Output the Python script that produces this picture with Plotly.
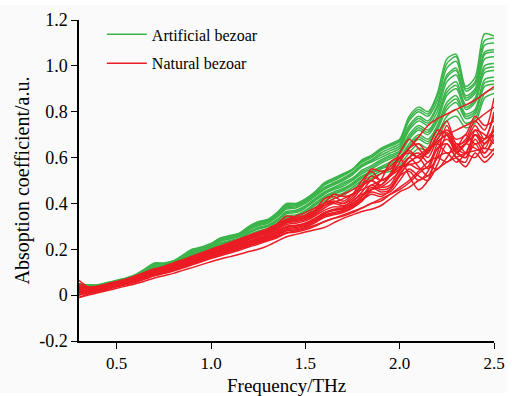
import plotly.graph_objects as go

# Frequency grid (THz)
freq = [0.30, 0.35, 0.40, 0.45, 0.50, 0.55, 0.60, 0.65, 0.70, 0.75,
        0.80, 0.85, 0.90, 0.95, 1.00, 1.05, 1.10, 1.15, 1.20, 1.25,
        1.30, 1.35, 1.40, 1.45, 1.50, 1.55, 1.60, 1.65, 1.70, 1.75,
        1.80, 1.85, 1.90, 1.95, 2.00, 2.05, 2.10, 2.15, 2.20, 2.25,
        2.30, 2.35, 2.40, 2.45, 2.50]

# Artificial bezoar absorption spectra (a.u.)
art_1 = [0.05,0.045,0.045,0.055,0.065, 0.075,0.09,0.115,0.14,0.14, 0.15,0.175,0.20,0.21,0.225,
         0.25,0.26,0.27,0.30,0.32, 0.33,0.36,0.40,0.40,0.42, 0.45,0.49,0.51,0.53,0.55,
         0.59,0.61,0.64,0.66,0.68, 0.78,0.82,0.80,0.88,1.03, 1.05,0.91,0.95,1.14,1.13]
art_2 = [0.048,0.043,0.043,0.052,0.062, 0.072,0.086,0.11,0.135,0.136, 0.146,0.17,0.195,0.205,0.22,
         0.245,0.255,0.265,0.295,0.315, 0.325,0.355,0.39,0.395,0.415, 0.445,0.48,0.50,0.52,0.545,
         0.58,0.60,0.63,0.65,0.67, 0.76,0.80,0.78,0.85,0.99, 1.02,0.89,0.92,1.09,1.10]
art_3 = [0.045,0.041,0.041,0.05,0.06, 0.07,0.083,0.105,0.13,0.132, 0.142,0.165,0.19,0.20,0.215,
         0.24,0.25,0.26,0.29,0.31, 0.32,0.35,0.385,0.39,0.41, 0.44,0.47,0.49,0.51,0.535,
         0.57,0.59,0.62,0.64,0.66, 0.74,0.78,0.76,0.83,0.96, 0.99,0.87,0.90,1.06,1.07]
art_4 = [0.042,0.039,0.039,0.048,0.058, 0.068,0.08,0.10,0.125,0.128, 0.138,0.16,0.185,0.195,0.21,
         0.235,0.245,0.255,0.283,0.303, 0.313,0.34,0.375,0.38,0.40, 0.43,0.46,0.48,0.50,0.525,
         0.56,0.58,0.60,0.62,0.64, 0.72,0.76,0.74,0.80,0.93, 0.96,0.85,0.88,1.03,1.04]
art_5 = [0.04,0.037,0.037,0.046,0.056, 0.066,0.078,0.097,0.12,0.124, 0.134,0.155,0.18,0.19,0.205,
         0.228,0.238,0.248,0.276,0.295, 0.305,0.33,0.365,0.37,0.39, 0.42,0.45,0.47,0.49,0.51,
         0.545,0.565,0.59,0.61,0.63, 0.70,0.74,0.72,0.78,0.90, 0.93,0.83,0.86,1.00,1.01]
art_6 = [0.037,0.035,0.035,0.044,0.054, 0.064,0.076,0.094,0.116,0.12, 0.13,0.15,0.175,0.185,0.20,
         0.222,0.232,0.242,0.27,0.288, 0.298,0.322,0.355,0.36,0.38, 0.41,0.44,0.46,0.475,0.50,
         0.53,0.55,0.575,0.595,0.615, 0.68,0.72,0.70,0.76,0.87, 0.90,0.81,0.84,0.97,0.98]
art_7 = [0.034,0.033,0.033,0.042,0.052, 0.062,0.074,0.09,0.112,0.116, 0.126,0.145,0.17,0.18,0.194,
         0.215,0.226,0.236,0.262,0.28, 0.29,0.314,0.345,0.35,0.37, 0.40,0.43,0.45,0.465,0.49,
         0.52,0.54,0.56,0.58,0.60, 0.66,0.70,0.68,0.74,0.84, 0.87,0.79,0.81,0.94,0.95]
art_8 = [0.03,0.032,0.032,0.041,0.051, 0.061,0.072,0.088,0.108,0.112, 0.122,0.14,0.165,0.175,0.19,
         0.21,0.22,0.23,0.256,0.274, 0.284,0.306,0.335,0.34,0.36, 0.39,0.42,0.44,0.455,0.48,
         0.51,0.53,0.55,0.565,0.585, 0.64,0.68,0.66,0.72,0.81, 0.84,0.77,0.79,0.91,0.92]
art_9 = [0.027,0.031,0.031,0.04,0.05, 0.06,0.07,0.086,0.104,0.108, 0.118,0.136,0.16,0.17,0.185,
         0.204,0.215,0.225,0.25,0.268, 0.278,0.298,0.325,0.332,0.35, 0.38,0.41,0.43,0.445,0.47,
         0.50,0.52,0.54,0.55,0.57, 0.62,0.66,0.64,0.70,0.78, 0.81,0.75,0.77,0.88,0.90]
art_10 = [0.024,0.03,0.03,0.04,0.05, 0.06,0.069,0.084,0.10,0.105, 0.115,0.132,0.155,0.165,0.18,
          0.198,0.21,0.22,0.244,0.262, 0.272,0.29,0.315,0.325,0.34, 0.37,0.40,0.42,0.435,0.46,
          0.49,0.51,0.53,0.54,0.56, 0.60,0.64,0.63,0.68,0.76, 0.78,0.73,0.75,0.86,0.88]
art_11 = [0.046,0.044,0.044,0.054,0.063, 0.074,0.088,0.112,0.138,0.138, 0.148,0.172,0.198,0.207,0.222,
          0.248,0.257,0.268,0.298,0.318, 0.328,0.358,0.395,0.398,0.418, 0.448,0.485,0.505,0.525,0.548,
          0.585,0.605,0.635,0.655,0.675, 0.77,0.81,0.79,0.87,1.01, 1.04,0.90,0.93,1.11,1.12]
art_12 = [0.043,0.04,0.04,0.049,0.059, 0.069,0.082,0.103,0.128,0.13, 0.14,0.163,0.188,0.198,0.213,
          0.238,0.248,0.258,0.287,0.307, 0.317,0.345,0.38,0.385,0.405, 0.435,0.465,0.485,0.505,0.53,
          0.565,0.585,0.61,0.63,0.65, 0.73,0.77,0.75,0.82,0.95, 0.98,0.86,0.89,1.05,1.06]
art_13 = [0.039,0.036,0.036,0.045,0.055, 0.065,0.077,0.096,0.118,0.122, 0.132,0.153,0.178,0.188,0.203,
          0.225,0.235,0.245,0.273,0.292, 0.302,0.326,0.36,0.365,0.385, 0.415,0.445,0.465,0.483,0.505,
          0.538,0.558,0.583,0.603,0.623, 0.69,0.73,0.71,0.77,0.885, 0.915,0.82,0.85,0.985,0.995]
art_14 = [0.032,0.032,0.032,0.041,0.051, 0.061,0.073,0.089,0.11,0.114, 0.124,0.142,0.167,0.177,0.192,
          0.212,0.223,0.233,0.259,0.277, 0.287,0.31,0.34,0.345,0.365, 0.395,0.425,0.445,0.46,0.485,
          0.515,0.535,0.555,0.572,0.592, 0.65,0.69,0.67,0.73,0.825, 0.855,0.78,0.80,0.925,0.935]

# Natural bezoar absorption spectra (a.u.)
nat_1 = [0.04,0.035,0.04,0.05,0.06, 0.07,0.085,0.10,0.115,0.125, 0.14,0.155,0.17,0.185,0.20,
         0.215,0.23,0.245,0.26,0.275, 0.29,0.31,0.33,0.345,0.36, 0.38,0.40,0.42,0.44,0.46,
         0.48,0.50,0.53,0.56,0.60, 0.64,0.69,0.74,0.77,0.79, 0.81,0.83,0.85,0.88,0.91]
nat_2 = [0.03,0.03,0.035,0.045,0.055, 0.065,0.08,0.095,0.11,0.12, 0.135,0.15,0.165,0.18,0.195,
         0.21,0.225,0.24,0.255,0.27, 0.285,0.30,0.32,0.335,0.35, 0.37,0.39,0.405,0.42,0.44,
         0.46,0.48,0.50,0.52,0.55, 0.58,0.61,0.64,0.67,0.70, 0.72,0.74,0.76,0.79,0.82]
nat_3 = [0.05,0.035,0.035,0.045,0.055, 0.065,0.078,0.093,0.11,0.12, 0.132,0.148,0.165,0.18,0.195,
         0.21,0.222,0.238,0.255,0.27, 0.285,0.305,0.33,0.335,0.345, 0.37,0.42,0.43,0.41,0.44,
         0.50,0.54,0.50,0.52,0.58, 0.64,0.66,0.62,0.70,0.76, 0.66,0.67,0.74,0.68,0.80]
nat_4 = [0.03,0.025,0.03,0.04,0.05, 0.06,0.072,0.088,0.104,0.113, 0.125,0.14,0.156,0.17,0.186,
         0.2,0.212,0.226,0.242,0.256, 0.27,0.29,0.315,0.32,0.33, 0.35,0.38,0.40,0.39,0.41,
         0.45,0.50,0.47,0.48,0.55, 0.60,0.56,0.52,0.62,0.74, 0.64,0.62,0.70,0.64,0.74]
nat_5 = [0.02,0.02,0.025,0.035,0.046, 0.056,0.068,0.083,0.098,0.108, 0.12,0.134,0.15,0.164,0.178,
         0.192,0.204,0.218,0.232,0.246, 0.26,0.278,0.30,0.305,0.315, 0.335,0.36,0.375,0.38,0.40,
         0.43,0.47,0.45,0.46,0.52, 0.58,0.60,0.55,0.60,0.70, 0.62,0.60,0.68,0.62,0.70]
nat_6 = [0.01,0.015,0.02,0.03,0.042, 0.052,0.064,0.078,0.093,0.103, 0.114,0.128,0.143,0.157,0.17,
         0.184,0.196,0.21,0.224,0.238, 0.252,0.268,0.29,0.295,0.305, 0.325,0.35,0.36,0.37,0.39,
         0.42,0.45,0.44,0.45,0.50, 0.55,0.52,0.50,0.57,0.66, 0.60,0.58,0.72,0.70,0.66]
nat_7 = [0.0,0.01,0.018,0.028,0.04, 0.05,0.06,0.074,0.088,0.098, 0.11,0.124,0.138,0.152,0.165,
         0.178,0.19,0.203,0.216,0.23, 0.244,0.26,0.28,0.285,0.295, 0.315,0.34,0.35,0.36,0.38,
         0.41,0.46,0.50,0.58,0.60, 0.52,0.46,0.50,0.60,0.62, 0.58,0.62,0.70,0.66,0.72]
nat_8 = [-0.01,0.005,0.015,0.025,0.036, 0.046,0.056,0.07,0.084,0.094, 0.105,0.118,0.132,0.146,0.16,
         0.172,0.184,0.196,0.21,0.222, 0.236,0.25,0.27,0.275,0.285, 0.30,0.32,0.335,0.345,0.36,
         0.38,0.40,0.41,0.44,0.47, 0.50,0.54,0.58,0.60,0.58, 0.62,0.66,0.64,0.62,0.68]
nat_9 = [0.0,0.01,0.018,0.028,0.038, 0.048,0.058,0.072,0.086,0.097, 0.108,0.122,0.136,0.15,0.165,
         0.178,0.19,0.202,0.215,0.228, 0.24,0.255,0.272,0.28,0.29, 0.305,0.32,0.335,0.35,0.365,
         0.38,0.40,0.42,0.44,0.46, 0.49,0.53,0.56,0.55,0.60, 0.66,0.62,0.60,0.66,0.70]
nat_10 = [-0.01,0.0,0.01,0.02,0.03, 0.04,0.05,0.062,0.075,0.085, 0.095,0.108,0.12,0.133,0.146,
          0.158,0.168,0.178,0.19,0.20, 0.215,0.235,0.255,0.265,0.275, 0.285,0.295,0.315,0.335,0.35,
          0.365,0.375,0.39,0.42,0.45, 0.47,0.50,0.52,0.55,0.58, 0.60,0.62,0.63,0.64,0.63]
nat_11 = [0.04,0.03,0.032,0.042,0.052, 0.062,0.074,0.09,0.106,0.116, 0.128,0.143,0.158,0.172,0.188,
          0.203,0.216,0.23,0.246,0.26, 0.275,0.295,0.32,0.325,0.335, 0.355,0.39,0.41,0.40,0.42,
          0.47,0.52,0.50,0.53,0.62, 0.68,0.64,0.60,0.68,0.72, 0.68,0.70,0.78,0.74,0.76]
nat_12 = [0.015,0.015,0.022,0.032,0.043, 0.053,0.065,0.08,0.095,0.105, 0.116,0.13,0.145,0.16,0.174,
          0.188,0.2,0.214,0.228,0.242, 0.256,0.274,0.295,0.30,0.31, 0.33,0.355,0.37,0.375,0.395,
          0.43,0.48,0.46,0.47,0.53, 0.57,0.55,0.56,0.66,0.70, 0.63,0.60,0.66,0.60,0.64]
nat_13 = [0.065,0.035,0.034,0.044,0.054, 0.064,0.077,0.092,0.108,0.118, 0.13,0.146,0.162,0.176,0.192,
          0.207,0.22,0.234,0.25,0.265, 0.28,0.31,0.345,0.34,0.345, 0.365,0.40,0.44,0.43,0.44,
          0.48,0.55,0.54,0.55,0.60, 0.63,0.60,0.62,0.70,0.71, 0.65,0.68,0.76,0.72,0.86]
nat_14 = [0.025,0.022,0.028,0.038,0.048, 0.058,0.07,0.085,0.10,0.11, 0.122,0.137,0.152,0.167,0.182,
          0.196,0.208,0.222,0.236,0.25, 0.265,0.284,0.308,0.314,0.324, 0.345,0.37,0.385,0.385,0.41,
          0.44,0.46,0.48,0.52,0.56, 0.57,0.58,0.63,0.66,0.62, 0.64,0.70,0.66,0.68,0.78]
nat_15 = [0.035,0.03,0.033,0.043,0.053, 0.063,0.076,0.091,0.107,0.117, 0.13,0.145,0.16,0.175,0.19,
          0.205,0.218,0.232,0.248,0.263, 0.278,0.298,0.325,0.33,0.34, 0.36,0.40,0.41,0.40,0.43,
          0.48,0.50,0.48,0.52,0.60, 0.62,0.60,0.64,0.72,0.70, 0.62,0.66,0.72,0.66,0.72]
nat_16 = [0.005,0.012,0.02,0.03,0.041, 0.051,0.062,0.076,0.09,0.1, 0.112,0.126,0.14,0.154,0.168,
          0.181,0.193,0.206,0.22,0.234, 0.248,0.264,0.285,0.29,0.3, 0.32,0.345,0.355,0.365,0.385,
          0.415,0.44,0.43,0.46,0.52, 0.54,0.50,0.54,0.64,0.66, 0.60,0.56,0.62,0.58,0.62]
nat_17 = [0.02,0.018,0.024,0.034,0.045, 0.055,0.067,0.081,0.097,0.107, 0.118,0.132,0.147,0.162,0.176,
          0.19,0.202,0.216,0.23,0.244, 0.258,0.276,0.298,0.302,0.312, 0.332,0.36,0.37,0.378,0.40,
          0.43,0.46,0.47,0.50,0.54, 0.60,0.62,0.58,0.64,0.68, 0.64,0.66,0.70,0.68,0.72]

artificial = [art_1, art_11, art_2, art_12, art_3, art_4, art_13, art_5, art_6, art_7,
              art_14, art_8, art_9, art_10]
natural = [nat_1, nat_2, nat_3, nat_4, nat_5, nat_6, nat_7, nat_8, nat_9, nat_10,
           nat_11, nat_12, nat_13, nat_14, nat_15, nat_16, nat_17]

x_tickvals = [0.5, 1.0, 1.5, 2.0, 2.5]
x_ticktext = ["0.5", "1.0", "1.5", "2.0", "2.5"]
y_tickvals = [-0.2, 0, 0.2, 0.4, 0.6, 0.8, 1.0, 1.2]
y_ticktext = ["-0.2", "0", "0.2", "0.4", "0.6", "0.8", "1.0", "1.2"]

GREEN = "#3bb44a"
RED = "#ec1c24"
FONT = "Liberation Serif, Times New Roman, serif"

fig = go.Figure()

for s in artificial:
    fig.add_trace(go.Scatter(x=freq, y=s, mode="lines",
                             line=dict(color=GREEN, width=1.5, shape="spline", smoothing=0.8),
                             showlegend=False, hoverinfo="skip"))
for s in natural:
    fig.add_trace(go.Scatter(x=freq, y=s, mode="lines",
                             line=dict(color=RED, width=1.5, shape="spline", smoothing=0.8),
                             showlegend=False, hoverinfo="skip"))

# legend entries
fig.add_trace(go.Scatter(x=[None], y=[None], mode="lines", name="Artificial bezoar",
                         legendgroup="a", line=dict(color=GREEN, width=1.5)))
fig.add_trace(go.Scatter(x=[None], y=[None], mode="lines", name="Natural bezoar",
                         legendgroup="n", line=dict(color=RED, width=1.5)))

fig.update_layout(
    width=512, height=396,
    margin=dict(l=79, r=18, t=20, b=55),
    paper_bgcolor="white",
    plot_bgcolor="#fafafa",
    font=dict(family=FONT, color="black", size=17),
    showlegend=True,
    legend=dict(x=0.055, y=1.008, xanchor="left", yanchor="top",
                bgcolor="rgba(0,0,0,0)", font=dict(family=FONT, size=16, color="black"),
                itemwidth=40, traceorder="grouped", tracegroupgap=5),
    shapes=[dict(type="rect", xref="paper", yref="paper",
                 x0=-0.19, x1=1.031, y0=-0.162, y1=1.047,
                 fillcolor="#fafafa", line=dict(width=0), layer="below")],
    annotations=[dict(text="Frequency/THz", xref="paper", yref="paper",
                      x=0.5, y=-0.138, xanchor="center", yanchor="middle",
                      showarrow=False, font=dict(family=FONT, size=19, color="black"))],
)

fig.update_xaxes(range=[0.3, 2.5], tickvals=x_tickvals, ticktext=x_ticktext,
                 showgrid=False, zeroline=False, showline=True, linecolor="black", linewidth=1.5,
                 ticks="outside", ticklen=6, tickwidth=1.3, tickcolor="black",
                 tickfont=dict(family=FONT, size=17), automargin=False)
fig.update_yaxes(range=[-0.2, 1.2], tickvals=y_tickvals, ticktext=y_ticktext,
                 showgrid=False, zeroline=False, showline=True, linecolor="black", linewidth=1.5,
                 ticks="outside", ticklen=6, tickwidth=1.3, tickcolor="black",
                 tickfont=dict(family=FONT, size=18), automargin=False,
                 title=dict(text="Absoption coefficient/a.u.", font=dict(family=FONT, size=20), standoff=4))

fig.write_html("out.html")
